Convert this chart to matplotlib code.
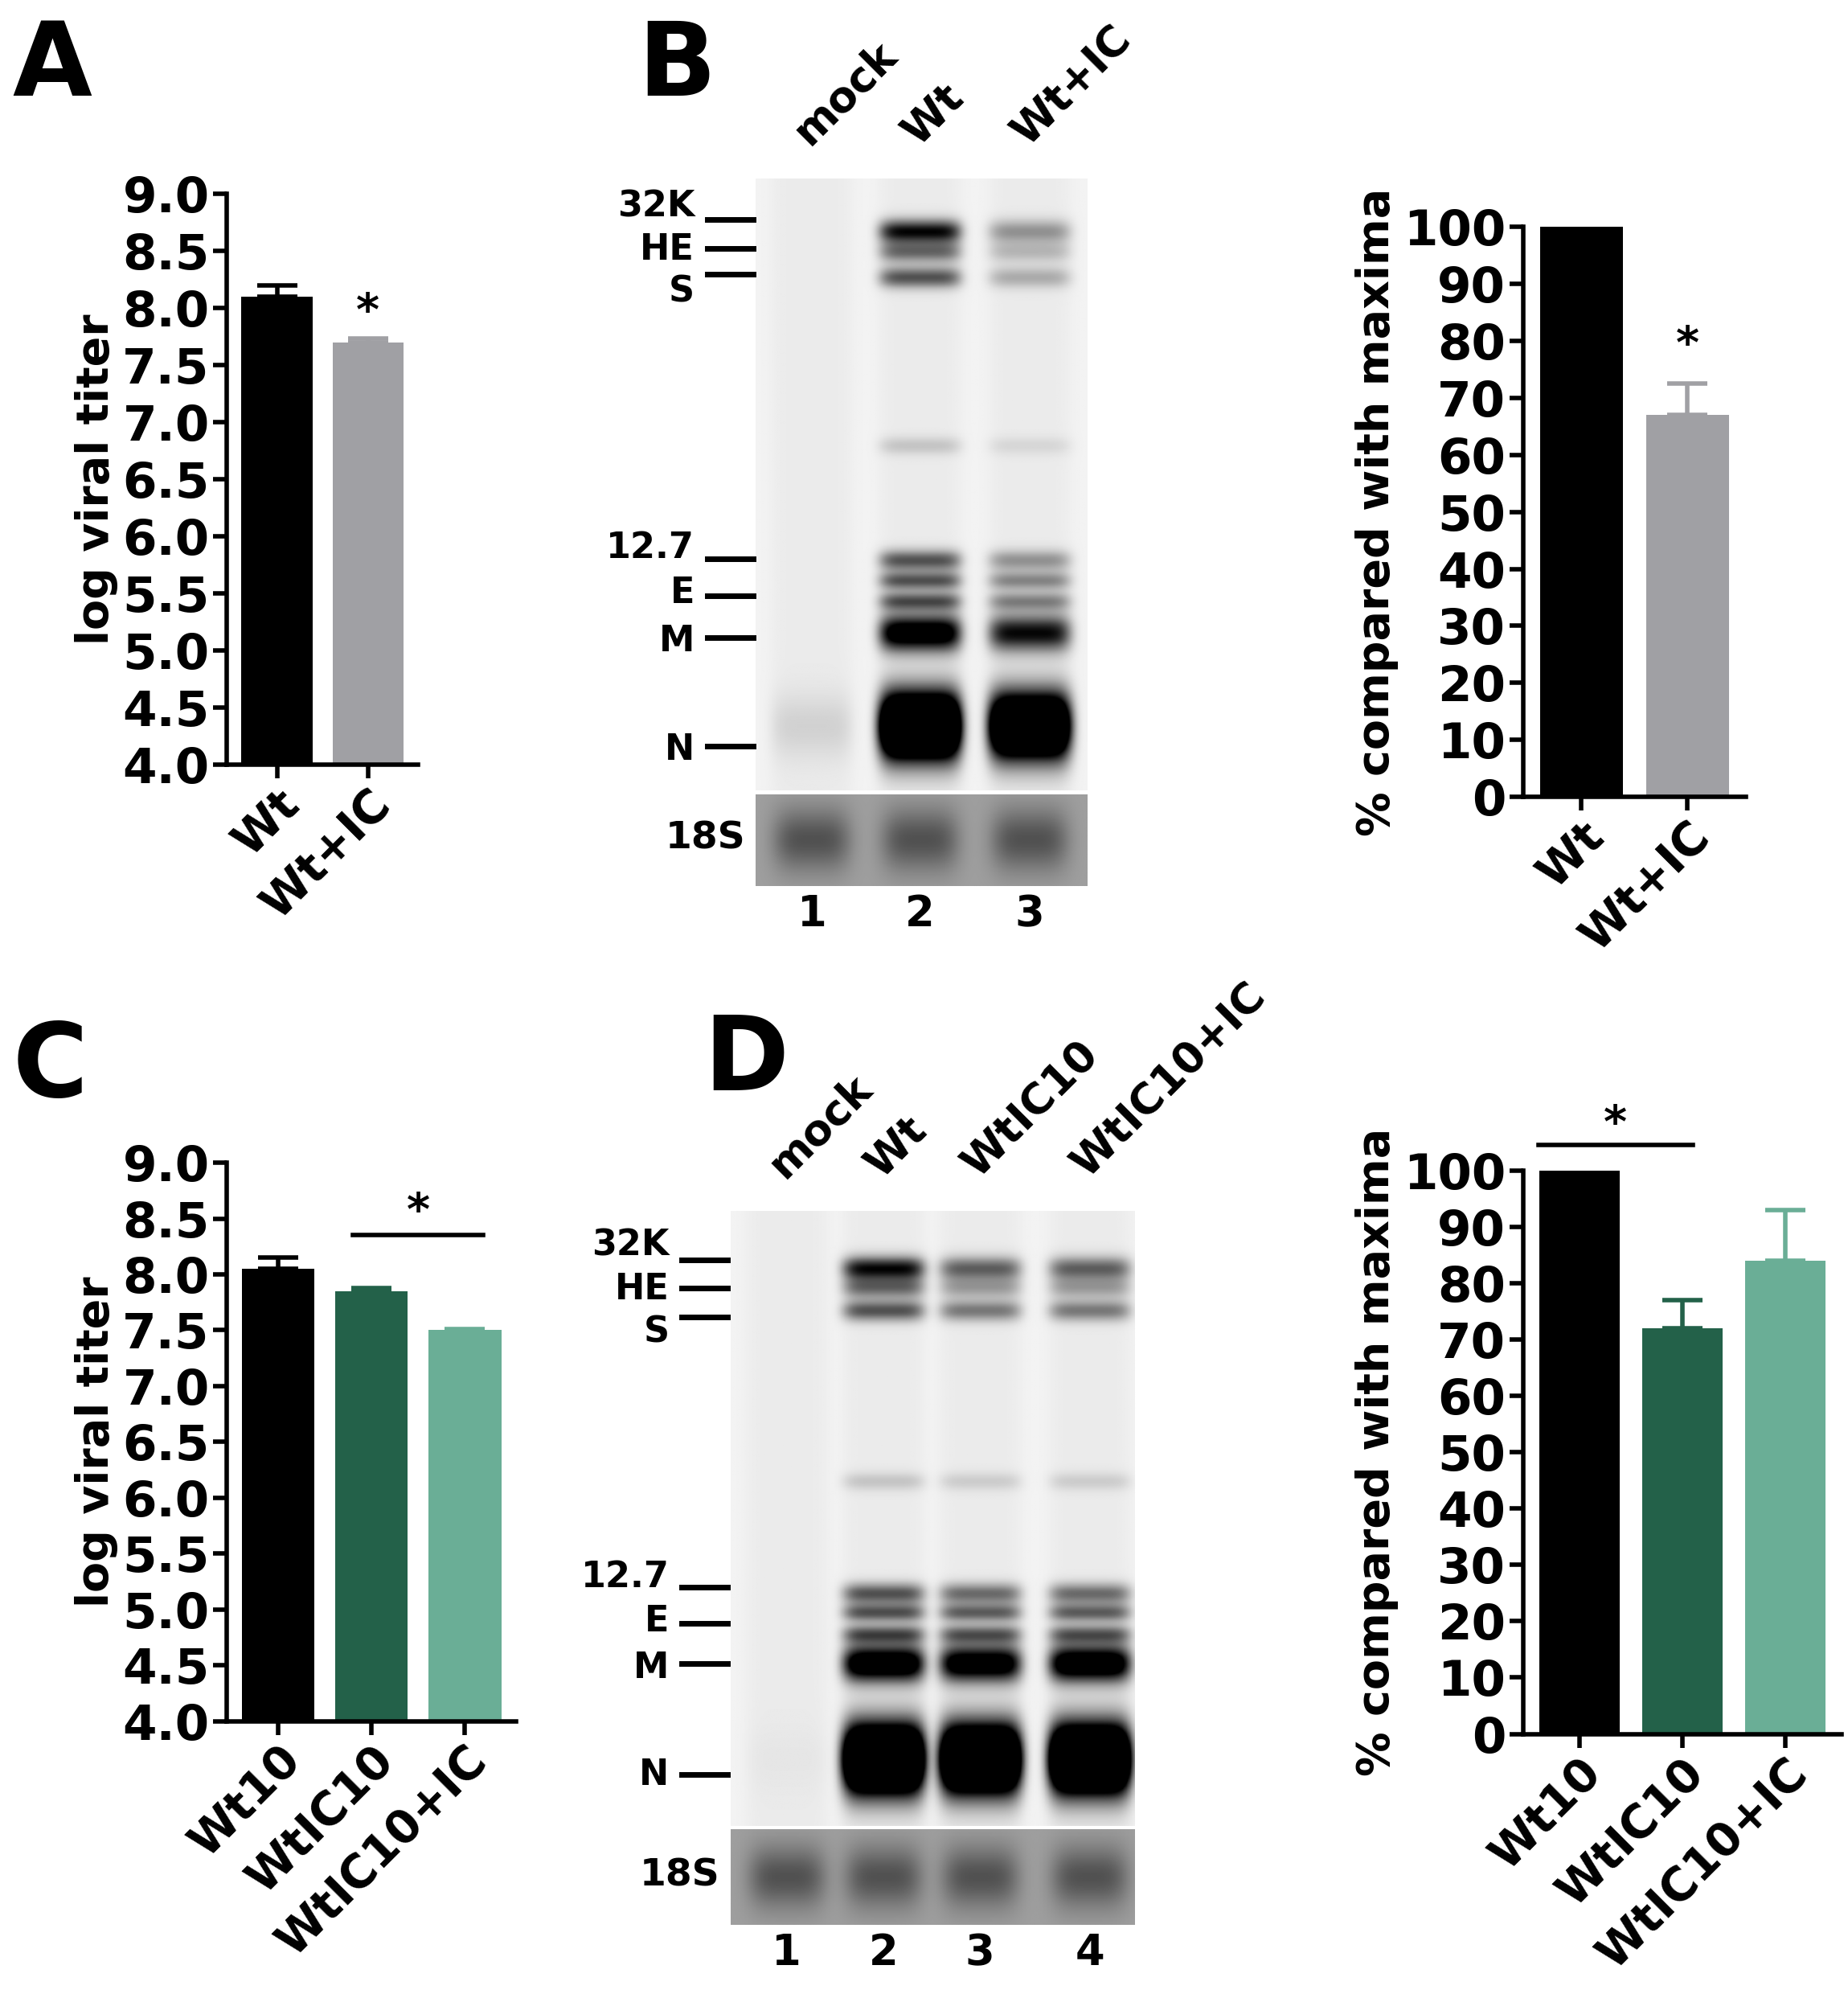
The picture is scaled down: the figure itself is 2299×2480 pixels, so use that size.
import numpy as np
import matplotlib
matplotlib.use("Agg")
import matplotlib.pyplot as plt

W, H = 1450.0, 1564.0
fig = plt.figure(figsize=(22.99, 24.8), dpi=100)
plt.rcParams['font.family'] = ['DejaVu Sans']
FS = 44

def ax_at(x0, y0, x1, y1):
    return fig.add_axes([x0 / W, 1 - y1 / H, (x1 - x0) / W, (y1 - y0) / H])

BLACK = '#000000'; GREY = '#a0a0a4'; DKG = '#236149'; LTG = '#6aae96'

# ---------- data ----------
a_cats = ['Wt', 'Wt+IC']; a_vals = [8.1, 7.7]; a_err = [0.1, 0.03]
b_cats = ['Wt', 'Wt+IC']; b_vals = [100, 67]; b_err = [0, 5.5]
c_cats = ['Wt10', 'WtIC10', 'WtIC10+IC']; c_vals = [8.05, 7.85, 7.5]; c_err = [0.1, 0.03, 0.01]
d_cats = ['Wt10', 'WtIC10', 'WtIC10+IC']; d_vals = [100, 72, 84]; d_err = [0, 5, 9]
titer_ticks = [4.0, 4.5, 5.0, 5.5, 6.0, 6.5, 7.0, 7.5, 8.0, 8.5, 9.0]
pct_ticks = list(range(0, 101, 10))

def style(ax):
    for s in ['top', 'right']:
        ax.spines[s].set_visible(False)
    for s in ['left', 'bottom']:
        ax.spines[s].set_linewidth(4)
    ax.tick_params(width=4, length=12, labelsize=FS)
    ax.tick_params(axis='x', labelsize=41)
    for t in ax.get_yticklabels() + ax.get_xticklabels():
        t.set_fontweight('bold')

def barchart(ax, cats, vals, errs, cols, ylim, ticks, ylabel, fmt):
    x = np.arange(len(cats))
    ax.bar(x, vals, width=0.78, color=cols, bottom=0)
    for xi, v, e, c in zip(x, vals, errs, cols):
        if e > 0:
            ax.errorbar(xi, v, yerr=[[0], [e]], color=c, capsize=18, capthick=4, elinewidth=4)
    ax.set_ylim(*ylim); ax.set_xlim(-0.55, len(cats) - 0.45)
    ax.set_yticks(ticks); ax.set_yticklabels([fmt(t) for t in ticks])
    ax.set_xticks(x); ax.set_xticklabels(cats, rotation=45, ha='right', rotation_mode='anchor')
    ax.set_ylabel(ylabel, fontsize=40, fontweight='bold')
    style(ax)

# Panel A
axA = ax_at(178, 152, 328, 600)
barchart(axA, a_cats, a_vals, a_err, [BLACK, GREY], (4, 9), titer_ticks, 'log viral titer', lambda t: f'{t:.1f}')
axA.bar(np.arange(2), np.array(a_vals) - 4, bottom=4, width=0.78, color=[BLACK, GREY])
axA.text(1, 7.85, '*', ha='center', fontsize=40, fontweight='bold')

# Panel B bars
axB = ax_at(1195, 178, 1370, 625)
barchart(axB, b_cats, b_vals, b_err, [BLACK, GREY], (0, 100), pct_ticks, '% compared with maxima', lambda t: f'{t}')
axB.text(1, 77, '*', ha='center', fontsize=40, fontweight='bold')

# Panel C
axC = ax_at(178, 912, 405, 1350)
barchart(axC, c_cats, c_vals, c_err, [BLACK, DKG, LTG], (4, 9), titer_ticks, 'log viral titer', lambda t: f'{t:.1f}')
axC.bar(np.arange(3), np.array(c_vals) - 4, bottom=4, width=0.78, color=[BLACK, DKG, LTG])
axC.plot([1 - 0.2, 2 + 0.2], [8.35, 8.35], color='k', lw=4)
axC.text(1.5, 8.45, '*', ha='center', fontsize=40, fontweight='bold')

# Panel D bars
axD = ax_at(1195, 918, 1445, 1360)
barchart(axD, d_cats, d_vals, d_err, [BLACK, DKG, LTG], (0, 100), pct_ticks, '% compared with maxima', lambda t: f'{t}')
axD.plot([-0.4, 1.1], [104.5, 104.5], color='k', lw=4, clip_on=False)
axD.text(0.35, 106, '*', ha='center', fontsize=40, fontweight='bold')

for lab, x, y in [('A', 10, 75), ('B', 500, 75), ('C', 10, 860), ('D', 552, 855)]:
    fig.text(x / W, 1 - y / H, lab, fontsize=92, fontweight='bold')

# ---------- blots ----------
def blot(x0, x1, y0, y1, y18, lanes_x, lane_labels, band_y, band_int, band_h, markers, marker_y, label_y):
    ax = ax_at(x0, y0, x1, y1)
    xs = np.linspace(x0, x1, 400); ys = np.linspace(y0, y1, 700)
    X, Y = np.meshgrid(xs, ys)
    img = np.full(X.shape, 0.05)
    for li, lx in enumerate(lanes_x):
        prof = np.exp(-((X - lx) / 32.0) ** 6)
        img += 0.03 * prof
        for by, bh, bi in zip(band_y, band_h, band_int[li]):
            img += bi * prof * np.exp(-((Y - by) / bh) ** 2)
    ax.imshow(np.clip(img, 0, 1), cmap='gray_r', vmin=0, vmax=1, extent=(x0, x1, y1, y0), aspect='auto')
    ax.set_xlim(x0, x1); ax.set_ylim(y1, y0); ax.axis('off')
    ax2 = ax_at(x0, y1 + 3, x1, y18)
    Y2, X2 = np.meshgrid(np.linspace(y1, y18, 100), xs, indexing='ij')
    img2 = np.full(X2.shape, 0.38)
    for lx in lanes_x:
        img2 += 0.3 * np.exp(-((X2 - lx) / 30.0) ** 4) * np.exp(-((Y2 - (y1 + y18) / 2) / 25) ** 2)
    ax2.imshow(img2, cmap='gray_r', vmin=0, vmax=1, extent=(x0, x1, y18, y1), aspect='auto')
    ax2.axis('off')
    fig.text((x0 - 8) / W, 1 - ((y1 + y18) / 2) / H, '18S', fontsize=34, fontweight='bold', ha='right', va='center')
    for m, my, ly in zip(markers, marker_y, label_y):
        fig.add_artist(plt.Line2D([(x0 - 38) / W, (x0 - 2) / W], [1 - my / H] * 2, color='k', lw=5))
        fig.text((x0 - 48) / W, 1 - ly / H, m, fontsize=32, fontweight='bold', ha='right', va='center')
    for i, (lx, ll) in enumerate(zip(lanes_x, lane_labels)):
        fig.text(lx / W, 1 - (y18 + 22) / H, str(i + 1), fontsize=38, fontweight='bold', ha='center', va='center')
        fig.text((lx - 20) / W, 1 - (y0 - 20) / H, ll, fontsize=38, fontweight='bold', rotation=45, ha='left', va='bottom')

bB_y = [182, 198, 218, 350, 440, 456, 472, 497, 570]
bB_h = [9, 8, 8, 7, 8, 7, 7, 14, 25]
bB_int = [[0, 0, 0, 0, 0, 0, 0, 0, 0.10],
          [0.9, 0.5, 0.6, 0.15, 0.6, 0.6, 0.6, 1.2, 2.5],
          [0.35, 0.2, 0.25, 0.08, 0.35, 0.4, 0.4, 0.9, 2.2]]
blot(593, 853, 140, 620, 695, [637, 722, 808], ['mock', 'Wt', 'Wt+IC'], bB_y, bB_int, bB_h,
     ['32K', 'HE', 'S', '12.7', 'E', 'M', 'N'], [172, 195, 215, 438, 467, 500, 585],
     [162, 196, 229, 430, 465, 503, 588])

bD_y = [995, 1010, 1028, 1162, 1250, 1265, 1282, 1305, 1380]
bD_h = [9, 8, 8, 7, 8, 7, 7, 14, 26]
bD_int = [[0, 0, 0, 0, 0, 0, 0, 0, 0.02],
          [0.9, 0.5, 0.6, 0.15, 0.6, 0.6, 0.6, 1.3, 2.6],
          [0.55, 0.3, 0.45, 0.12, 0.5, 0.55, 0.55, 1.2, 2.5],
          [0.55, 0.3, 0.45, 0.12, 0.5, 0.55, 0.55, 1.3, 2.6]]
blot(573, 890, 950, 1432, 1510, [617, 693, 769, 855], ['mock', 'Wt', 'WtIC10', 'WtIC10+IC'], bD_y, bD_int, bD_h,
     ['32K', 'HE', 'S', '12.7', 'E', 'M', 'N'], [988, 1010, 1033, 1245, 1273, 1305, 1392],
     [977, 1011, 1045, 1237, 1272, 1308, 1392])

fig.savefig('out.png', dpi=100)
